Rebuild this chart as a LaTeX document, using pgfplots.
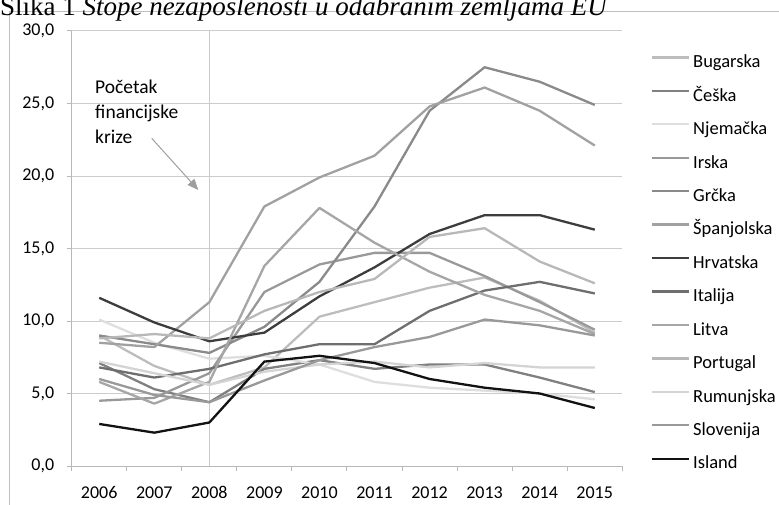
\documentclass[border=0pt]{standalone}
\usepackage{pgfplots}
\pgfplotsset{compat=1.18}
\usepackage{fontspec}
\setmainfont{Carlito}
\newfontfamily\titlefont{Liberation Serif}
\usetikzlibrary{arrows.meta}
\definecolor{cBul}{gray}{0.74}
\definecolor{cCes}{gray}{0.50}
\definecolor{cNje}{gray}{0.87}
\definecolor{cIrs}{gray}{0.60}
\definecolor{cGrc}{gray}{0.54}
\definecolor{cSpa}{gray}{0.63}
\definecolor{cHrv}{gray}{0.24}
\definecolor{cIta}{gray}{0.43}
\definecolor{cLit}{gray}{0.65}
\definecolor{cPor}{gray}{0.72}
\definecolor{cRum}{gray}{0.83}
\definecolor{cSlo}{gray}{0.60}
\definecolor{cIsl}{gray}{0.07}
\definecolor{gridgray}{gray}{0.80}
\definecolor{axgray}{gray}{0.72}
\definecolor{framegray}{gray}{0.75}
\definecolor{arrgray}{gray}{0.62}
\begin{document}
\begin{tikzpicture}[x=1pt,y=1pt]
\draw[framegray, line width=1pt] (9,-510) -- (9,-12) -- (785,-12);
\node[anchor=base west, inner sep=0pt, font=\titlefont\fontsize{27}{27}\selectfont] at (0,-16) {Slika 1 \textit{Stope nezaposlenosti u odabranim zemljama EU}};
\begin{axis}[
  at={(71.7pt,-466pt)}, anchor=south west,
  scale only axis, width=550.6pt, height=435pt,
  xmin=2005.5, xmax=2015.5, ymin=0, ymax=30,
  axis x line*=bottom, axis y line*=left,
  axis line style={draw=axgray, line width=1pt, -},
  tick style={draw=axgray, line width=1pt},
  tick align=outside, major tick length=5pt,
  xtick={2005.5,2006.5,...,2015.5},
  x tick label as interval,
  xticklabels={2006,2007,2008,2009,2010,2011,2012,2013,2014,2015},
  ytick={0,5,...,30},
  ymajorgrids, grid style={draw=gridgray, line width=1pt},
  font=\fontsize{18}{18}\selectfont,
  /pgf/number format/assume math mode=true,
  xticklabel style={anchor=north, inner sep=0pt, yshift=-15.3pt},
  yticklabel style={anchor=east, inner sep=0pt, xshift=-12.4pt,
    /pgf/number format/fixed, /pgf/number format/fixed zerofill,
    /pgf/number format/precision=1, /pgf/number format/use comma},
  legend style={at={(1.05212,0.94598)}, anchor=north west, draw=none, fill=none,
    inner sep=0pt, row sep=16.44pt, column sep=2.7pt,
    nodes={inner sep=0pt, text height=13pt, text depth=4pt, font=\fontsize{18.5}{18.5}\selectfont}},
  legend cell align=left,
  legend image code/.code={\draw[#1] (0pt,5.8pt) -- (37pt,5.8pt);},
  every axis plot/.append style={line width=2.3pt, line join=round},
]
\draw[gridgray, line width=1pt] (axis cs:2008,0) -- (axis cs:2008,30);
\addplot[cBul] coordinates {(2006,9.0) (2007,6.9) (2008,5.6) (2009,6.8) (2010,10.3) (2011,11.3) (2012,12.3) (2013,13.0) (2014,11.4) (2015,9.2)};
\addlegendentry{Bugarska}
\addplot[cCes] coordinates {(2006,7.1) (2007,5.3) (2008,4.4) (2009,6.7) (2010,7.3) (2011,6.7) (2012,7.0) (2013,7.0) (2014,6.1) (2015,5.1)};
\addlegendentry{Češka}
\addplot[cNje] coordinates {(2006,10.1) (2007,8.5) (2008,7.4) (2009,7.6) (2010,7.0) (2011,5.8) (2012,5.4) (2013,5.2) (2014,5.0) (2015,4.6)};
\addlegendentry{Njemačka}
\addplot[cIrs] coordinates {(2006,4.5) (2007,4.7) (2008,6.4) (2009,12.0) (2010,13.9) (2011,14.7) (2012,14.7) (2013,13.1) (2014,11.3) (2015,9.4)};
\addlegendentry{Irska}
\addplot[cGrc] coordinates {(2006,9.0) (2007,8.4) (2008,7.8) (2009,9.6) (2010,12.7) (2011,17.9) (2012,24.5) (2013,27.5) (2014,26.5) (2015,24.9)};
\addlegendentry{Grčka}
\addplot[cSpa] coordinates {(2006,8.5) (2007,8.2) (2008,11.3) (2009,17.9) (2010,19.9) (2011,21.4) (2012,24.8) (2013,26.1) (2014,24.5) (2015,22.1)};
\addlegendentry{Španjolska}
\addplot[cHrv] coordinates {(2006,11.6) (2007,9.9) (2008,8.6) (2009,9.2) (2010,11.7) (2011,13.7) (2012,16.0) (2013,17.3) (2014,17.3) (2015,16.3)};
\addlegendentry{Hrvatska}
\addplot[cIta] coordinates {(2006,6.8) (2007,6.1) (2008,6.7) (2009,7.7) (2010,8.4) (2011,8.4) (2012,10.7) (2013,12.1) (2014,12.7) (2015,11.9)};
\addlegendentry{Italija}
\addplot[cLit] coordinates {(2006,5.8) (2007,4.3) (2008,5.8) (2009,13.8) (2010,17.8) (2011,15.4) (2012,13.4) (2013,11.8) (2014,10.7) (2015,9.1)};
\addlegendentry{Litva}
\addplot[cPor] coordinates {(2006,8.8) (2007,9.1) (2008,8.8) (2009,10.7) (2010,12.0) (2011,12.9) (2012,15.8) (2013,16.4) (2014,14.1) (2015,12.6)};
\addlegendentry{Portugal}
\addplot[cRum] coordinates {(2006,7.2) (2007,6.4) (2008,5.6) (2009,6.5) (2010,7.0) (2011,7.2) (2012,6.8) (2013,7.1) (2014,6.8) (2015,6.8)};
\addlegendentry{Rumunjska}
\addplot[cSlo] coordinates {(2006,6.0) (2007,4.9) (2008,4.4) (2009,5.9) (2010,7.3) (2011,8.2) (2012,8.9) (2013,10.1) (2014,9.7) (2015,9.0)};
\addlegendentry{Slovenija}
\addplot[cIsl] coordinates {(2006,2.9) (2007,2.3) (2008,3.0) (2009,7.2) (2010,7.6) (2011,7.1) (2012,6.0) (2013,5.4) (2014,5.0) (2015,4.0)};
\addlegendentry{Island}
\end{axis}
\node[anchor=base west, inner sep=0pt, font=\fontsize{19.5}{19.5}\selectfont] at (95,-94) {Početak};
\node[anchor=base west, inner sep=0pt, font=\fontsize{19.5}{19.5}\selectfont] at (95,-119) {financijske};
\node[anchor=base west, inner sep=0pt, font=\fontsize{19.5}{19.5}\selectfont] at (95,-144) {krize};
\draw[arrgray, line width=1pt, -{Triangle[length=11pt,width=9pt]}] (151.7,-138.3) -- (198.3,-190);
\pgfresetboundingbox
\useasboundingbox (0,-505) rectangle (779,0);
\end{tikzpicture}
\end{document}
